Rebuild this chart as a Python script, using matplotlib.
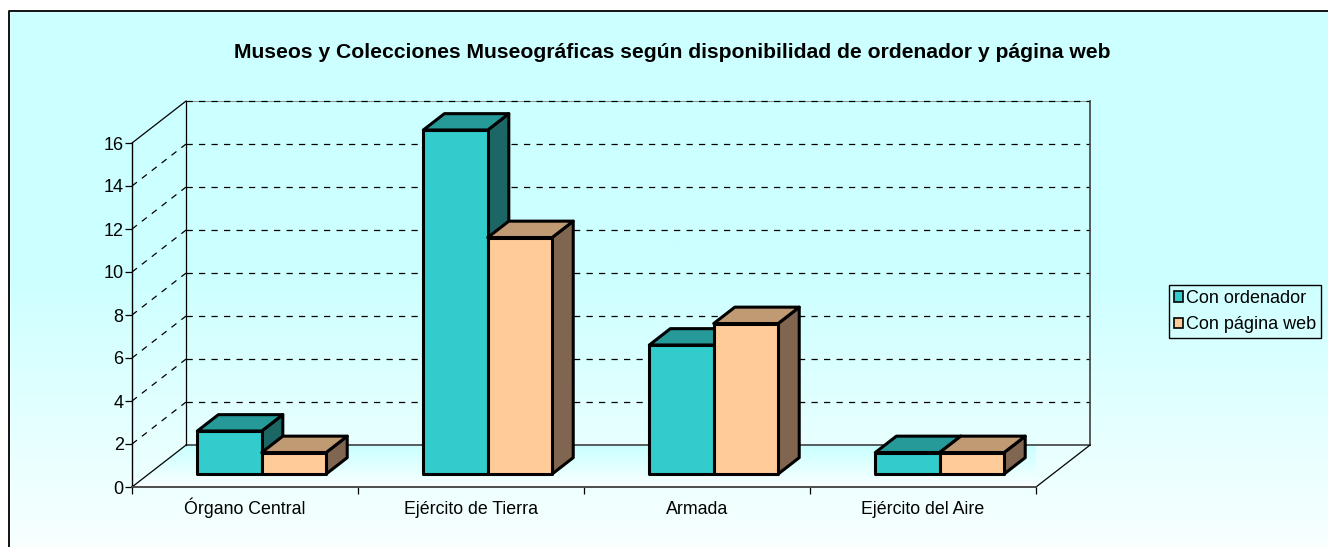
import matplotlib.pyplot as plt
import matplotlib.colors as mcolors
from matplotlib.patches import Polygon, Patch
import numpy as np

plt.rcParams['font.family'] = ['Liberation Sans', 'DejaVu Sans']

# data
categories = ["Órgano Central", "Ejército de Tierra", "Armada", "Ejército del Aire"]
series_names = ["Con ordenador", "Con página web"]
con_ordenador = [2, 16, 6, 1]
con_pagina_web = [1, 11, 7, 1]
y_ticks = [0, 2, 4, 6, 8, 10, 12, 14, 16]

# colours: front, top, side
face_colors = [("#33CCCC", "#269999", "#1D6666"),
               ("#FFCC99", "#C09A73", "#806650")]

W, H = 1328, 547
fig = plt.figure(figsize=(W / 100, H / 100), dpi=100)

# background gradient + outer frame
bg = fig.add_axes([0, 0, 1, 1])
grad = np.linspace(0, 1, 256).reshape(-1, 1)
cmap_bg = mcolors.LinearSegmentedColormap.from_list("bg", ["#CCFFFF", "#CCFFFF", "#F8FFFF"])
bg.imshow(grad, cmap=cmap_bg, aspect="auto", extent=[0, W, H, 0])
bg.fill_between([0, W], 0, 11, color="white", zorder=2)
bg.fill_between([0, 9], 0, H, color="white", zorder=2)
bg.plot([9, 9, W + 20], [H + 20, 11, 11], color="black", lw=1.3, zorder=3, clip_on=False)
bg.set_xlim(0, W)
bg.set_ylim(H, 0)
bg.axis("off")

ax = fig.add_axes([132 / W, (H - 487) / H, 904 / W, 344 / H])
ax.patch.set_visible(False)
ncat = len(categories)
ax.set_xlim(0, ncat)
ax.set_ylim(0, 16)

# oblique depth offsets (full depth)
DX, DY = 0.239, 1.95
ymax = y_ticks[-1]

# floor
floor = Polygon([(0, 0), (ncat, 0), (ncat + DX, DY), (DX, DY)], closed=True,
                facecolor="none", edgecolor="none")
ax.add_patch(floor)
cmap_fl = mcolors.LinearSegmentedColormap.from_list("fl", ["#FAFFFF", "#C8FFFF"])
im = ax.imshow(np.linspace(0, 1, 64).reshape(-1, 1), cmap=cmap_fl, aspect="auto",
               extent=[0, ncat + DX, 0, DY], origin="lower", zorder=0.5)
im.set_clip_path(floor)

# walls and grid
for v in y_ticks:
    style = "-" if v in (0, ymax) else (0, (5, 5))
    ax.plot([0, DX], [v, v + DY], color="black", lw=0.9, ls=style, clip_on=False, zorder=1)
    if v > 0:
        ax.plot([DX, ncat + DX], [v + DY, v + DY], color="black", lw=0.9,
                ls=(0, (5, 5)), clip_on=False, zorder=1)
ax.plot([DX, ncat + DX], [ymax + DY, ymax + DY], color="#808080", lw=0.6, clip_on=False, zorder=0.9)
ax.plot([DX, ncat + DX], [DY, DY], color="#404040", lw=1.2, clip_on=False, zorder=1)
ax.plot([DX, DX], [DY, ymax + DY], color="black", lw=0.9, clip_on=False, zorder=1)
ax.plot([ncat + DX, ncat + DX], [DY, ymax + DY], color="#404040", lw=1.2, clip_on=False, zorder=1)
ax.plot([ncat, ncat + DX], [0, DY], color="black", lw=0.9, clip_on=False, zorder=1)

# 3D bars
bw = 0.285
f0 = 0.31
bd = 0.39
ox, oy = f0 * DX, f0 * DY
bx, by = bd * DX, bd * DY
for i in range(ncat):
    for s, vals in enumerate([con_ordenador, con_pagina_web]):
        v = vals[i]
        x0 = i + 0.5 - bw + s * bw + ox
        x1 = x0 + bw
        front_c, top_c, side_c = face_colors[s]
        kw = dict(closed=True, edgecolor="black", lw=2.2, joinstyle="round",
                  clip_on=False, zorder=2)
        ax.add_patch(Polygon([(x1, oy), (x1 + bx, oy + by), (x1 + bx, v + oy + by), (x1, v + oy)],
                             facecolor=side_c, **kw))
        ax.add_patch(Polygon([(x0, v + oy), (x1, v + oy), (x1 + bx, v + oy + by), (x0 + bx, v + oy + by)],
                             facecolor=top_c, **kw))
        ax.add_patch(Polygon([(x0, oy), (x1, oy), (x1, v + oy), (x0, v + oy)],
                             facecolor=front_c, **kw))

# axes
for side in ("top", "right"):
    ax.spines[side].set_visible(False)
ax.spines["left"].set_linewidth(1.0)
ax.spines["bottom"].set_linewidth(1.3)
ax.spines["bottom"].set_color("#404040")
ax.set_yticks(y_ticks)
ax.tick_params(axis="y", direction="out", length=5, width=0.9, labelsize=13, pad=1)
ax.set_xticks(np.arange(ncat) + 0.5)
ax.set_xticklabels(categories, va="baseline")
ax.set_xticks(np.arange(ncat + 1), minor=True)
ax.tick_params(axis="x", which="major", length=0, labelsize=12.8, pad=19.5)
ax.tick_params(axis="x", which="minor", direction="out", length=5, width=0.9)

fig.text(672 / W, 1 - 53 / H, "Museos y Colecciones Museográficas según disponibilidad de ordenador y página web",
         ha="center", va="center", fontsize=15.2, fontweight="bold")

handles = [Patch(facecolor=face_colors[k][0], edgecolor="black", lw=1.2, label=series_names[k])
           for k in range(2)]
leg = fig.legend(handles=handles, loc="upper left", bbox_to_anchor=(1169 / W, 1 - 285 / H),
                 frameon=True, fancybox=False, edgecolor="black", facecolor="none", framealpha=1,
                 fontsize=13, handlelength=0.55, handleheight=0.55, handletextpad=0.15,
                 borderpad=0.25, labelspacing=0.55, borderaxespad=0)
leg.get_frame().set_linewidth(1.0)

fig.savefig("out.png", dpi=100)
